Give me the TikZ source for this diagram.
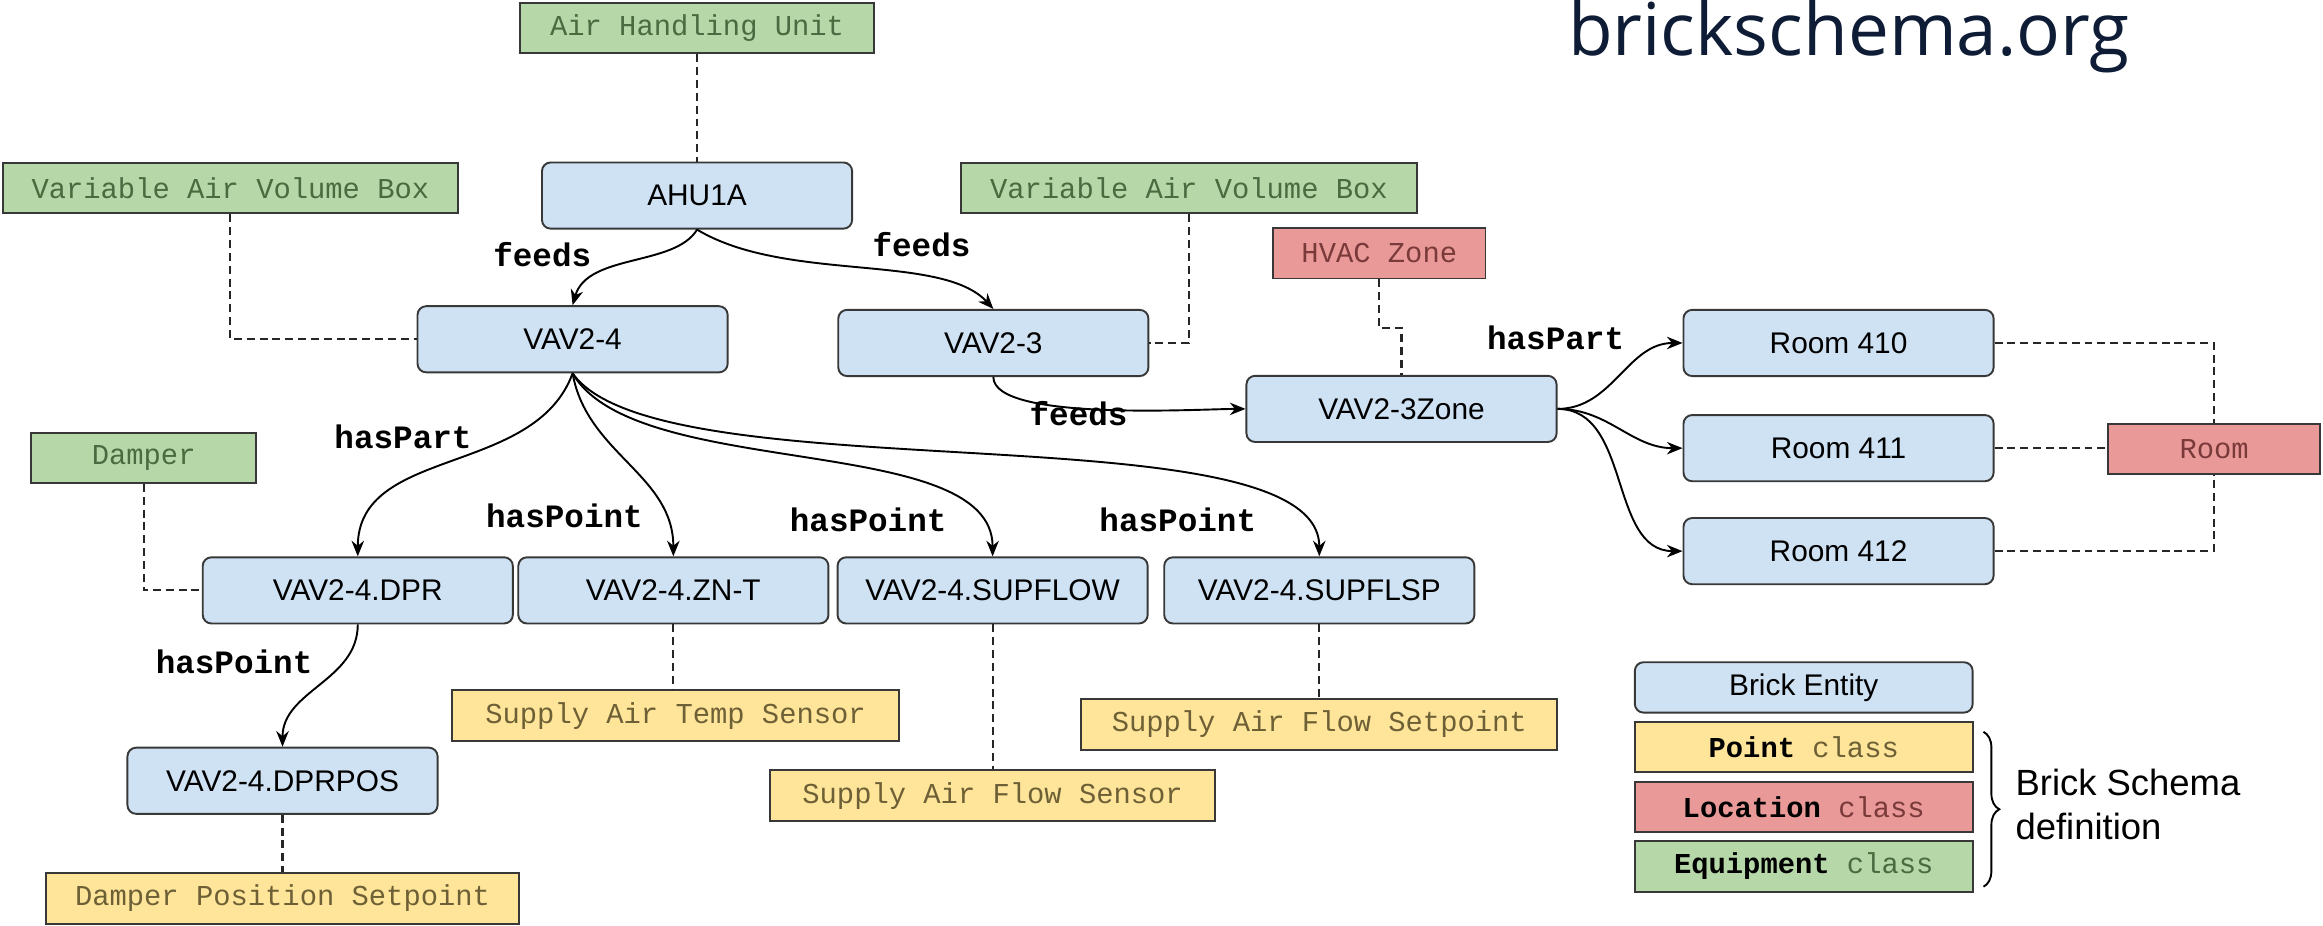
\documentclass[tikz,border=0pt]{standalone}
\usepackage{fontspec}
\setmainfont{Liberation Sans}
\setmonofont{Liberation Mono}
\newfontfamily\sitefont{Open Sans}
\usetikzlibrary{arrows.meta, positioning, decorations.pathreplacing}

\definecolor{entityfill}{HTML}{CFE2F3}
\definecolor{pointfill}{HTML}{FFE599}
\definecolor{locfill}{HTML}{EA9999}
\definecolor{equipfill}{HTML}{B6D7A8}
\definecolor{boxline}{HTML}{383838}
\definecolor{pointtext}{HTML}{6E6036}
\definecolor{loctext}{HTML}{7A3A3A}
\definecolor{equiptext}{HTML}{4A6A40}
\definecolor{sitenavy}{HTML}{0E1C36}

\tikzstyle{entity} = [rectangle, rounded corners=2.5pt, draw=boxline, fill=entityfill, line width=0.55pt, minimum width=31.4mm, minimum height=6.7mm, inner sep=0pt, font=\fontsize{8.6}{10}\selectfont]
\tikzstyle{classbox} = [rectangle, draw=boxline, line width=0.55pt, minimum height=5.1mm, inner sep=0pt, font=\fontsize{8.3}{10}\ttfamily]
\tikzstyle{equipcls} = [classbox, fill=equipfill, text=equiptext]
\tikzstyle{pointcls} = [classbox, fill=pointfill, text=pointtext]
\tikzstyle{loccls} = [classbox, fill=locfill, text=loctext]
\tikzstyle{rel} = [inner sep=0pt, font=\fontsize{9.4}{11}\ttfamily\bfseries]
\tikzstyle{arrow} = [line width=0.55pt,->,>={Stealth[length=4.5pt,width=3.6pt]}]
\tikzstyle{dashlink} = [line width=0.6pt, draw=black!85, dash pattern=on 2.3pt off 1.4pt]

\begin{document}
\begin{tikzpicture}[x=0.15mm, y=0.15mm]
\useasboundingbox (0,0) rectangle (1568,625);

% Site name
\node (site) [inner sep=0pt, text=sitenavy, font=\sitefont\fontsize{21}{24}\selectfont] at (1248,600) {brickschema.org};

% Equipment classes
\node (aircls) [equipcls, minimum width=35.9mm] at (470.5,606) {Air Handling Unit};
\node (vavclsA) [equipcls, minimum width=46mm] at (155.5,498) {Variable Air Volume Box};
\node (vavclsB) [equipcls, minimum width=46.2mm] at (802.5,498) {Variable Air Volume Box};
\node (dmpcls) [equipcls, minimum width=22.8mm] at (97,316) {Damper};

% Location classes
\node (zonecls) [loccls, minimum width=21.5mm] at (931,454) {HVAC Zone};
\node (roomcls) [loccls, minimum width=21.5mm] at (1494.5,322) {Room};

% Point classes
\node (tempcls) [pointcls, minimum width=45.3mm] at (456,142) {Supply Air Temp Sensor};
\node (flowcls) [pointcls, minimum width=45mm] at (670,88) {Supply Air Flow Sensor};
\node (fspcls) [pointcls, minimum width=48.2mm] at (890.5,136) {Supply Air Flow Setpoint};
\node (dposcls) [pointcls, minimum width=47.9mm] at (190.7,18.5) {Damper Position Setpoint};

% Entities
\node (ahu) [entity] at (470.5,493) {AHU1A};
\node (vav24) [entity] at (386.5,396) {VAV2-4};
\node (vav23) [entity] at (670.5,393.5) {VAV2-3};
\node (zone) [entity] at (946,349) {VAV2-3Zone};
\node (r410) [entity] at (1241,393.5) {Room 410};
\node (r411) [entity] at (1241,322.5) {Room 411};
\node (r412) [entity] at (1241,253) {Room 412};
\node (dpr) [entity] at (241.5,226.5) {VAV2-4.DPR};
\node (znt) [entity] at (454.5,226.5) {VAV2-4.ZN-T};
\node (supflow) [entity] at (670,226.5) {VAV2-4.SUPFLOW};
\node (supflsp) [entity] at (890.5,226.5) {VAV2-4.SUPFLSP};
\node (dprpos) [entity] at (190.7,98) {VAV2-4.DPRPOS};

% Relation labels
\node (feedsA) [rel] at (366,453) {feeds};
\node (feedsB) [rel] at (622,460) {feeds};
\node (feedsC) [rel] at (728,346) {feeds};
\node (partZ) [rel] at (1050,397) {hasPart};
\node (partD) [rel] at (272,330) {hasPart};
\node (pointZ) [rel] at (381,277) {hasPoint};
\node (pointF) [rel] at (586,274) {hasPoint};
\node (pointS) [rel] at (795,274) {hasPoint};
\node (pointP) [rel] at (158,178) {hasPoint};

% Relations
\draw [arrow] (ahu.south) .. controls +(-15,-25) and +(10,35) .. (vav24.north);
\draw [arrow] (ahu.south) .. controls +(60,-36) and +(-35,38) .. (vav23.north);
\draw [arrow] (vav23.south) to[out=-90, in=180, looseness=0.45] (zone.west);
\draw [arrow] (zone.east) to[out=0, in=180] (r410.west);
\draw [arrow] (zone.east) to[out=0, in=180] (r411.west);
\draw [arrow] (zone.east) to[out=0, in=180] (r412.west);
\draw [arrow] (vav24.south) to[out=-110, in=90] (dpr.north);
\draw [arrow] (vav24.south) to[out=-80, in=90] (znt.north);
\draw [arrow] (vav24.south) to[out=-60, in=90, looseness=0.7] (supflow.north);
\draw [arrow] (vav24.south) to[out=-55, in=90, looseness=0.5] (supflsp.north);
\draw [arrow] (dpr.south) to[out=-90, in=90] (dprpos.north);

% Class links
\draw [dashlink] (aircls.south) -- (ahu.north);
\draw [dashlink] (vavclsA.south) |- (vav24.west);
\draw [dashlink] (vavclsB.south) |- (vav23.east);
\draw [dashlink] (zonecls.south) -- ++(0,-33) -| (zone.north);
\draw [dashlink] (dmpcls.south) |- (dpr.west);
\draw [dashlink] (znt.south) -- (znt.south |- tempcls.north);
\draw [dashlink] (supflow.south) -- (supflow.south |- flowcls.north);
\draw [dashlink] (supflsp.south) -- (supflsp.south |- fspcls.north);
\draw [dashlink] (dprpos.south) -- (dprpos.south |- dposcls.north);
\draw [dashlink] (r410.east) -| (roomcls.north);
\draw [dashlink] (r411.east) -- (r411.east -| roomcls.west);
\draw [dashlink] (r412.east) -| (roomcls.south);

% Legend
\node (lentity) [entity, minimum width=34.2mm, minimum height=5.1mm] at (1217.5,161) {Brick Entity};
\node (lpoint) [pointcls, minimum width=34.2mm, below=0.75mm of lentity] {\textcolor{black}{\textbf{Point}} class};
\node (lloc) [loccls, minimum width=34.2mm, below=0.75mm of lpoint] {\textcolor{black}{\textbf{Location}} class};
\node (lequip) [equipcls, minimum width=34.2mm, below=0.75mm of lloc] {\textcolor{black}{\textbf{Equipment}} class};
\draw [line width=0.55pt, decorate, decoration={brace, amplitude=1.6mm}] ([xshift=1mm,yshift=-1.1mm]lpoint.north east) -- ([xshift=1mm,yshift=0.6mm]lequip.south east);
\node (schemadef) [anchor=west, align=left, inner sep=0pt, font=\fontsize{10.5}{12.8}\selectfont] at (1360,82) {Brick Schema\\definition};

\end{tikzpicture}
\end{document}
